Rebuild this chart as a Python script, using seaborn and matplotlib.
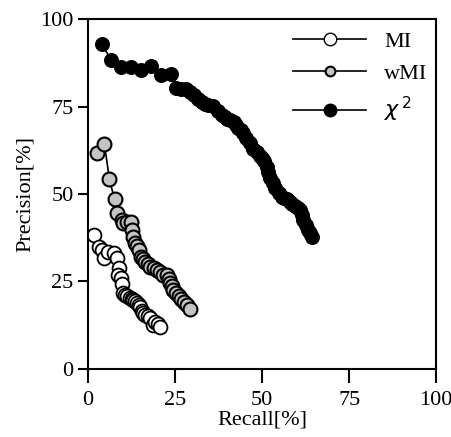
import pandas as pd
import matplotlib.pyplot as plt
import seaborn as sns
from matplotlib.lines import Line2D

# Datos
mi_recall = [1.7, 3.0, 3.9, 4.6, 5.8, 7.3, 8.2, 9.0, 8.7, 9.4, 9.7, 9.7, 10.1, 10.6, 11.1, 12.0,
             12.5, 13.0, 13.5, 14.0, 14.5, 14.9, 15.4, 15.9, 16.4, 17.1, 17.8, 18.5, 19.3, 20.0, 20.7]
mi_precision = [38.3, 34.9, 34.0, 31.6, 33.5, 33.0, 31.6, 28.8, 26.9, 26.0, 25.4, 23.0, 21.6, 21.2, 20.7, 20.2,
                20.0, 19.7, 19.3, 18.8, 18.3, 17.8, 16.4, 16.0, 15.4, 15.0, 14.5, 12.6, 13.5, 12.8, 12.1]

wmi_recall = [2.5, 4.7, 6.1, 7.6, 8.2, 9.7, 10.1, 11.2, 12.3, 12.5, 13.0, 13.5, 14.0, 14.5, 15.2, 15.8,
              16.4, 17.1, 17.8, 18.8, 19.7, 20.6, 21.6, 22.8, 23.2, 23.6, 24.0, 24.5, 25.2, 26.0,
              26.7, 27.4, 28.3, 29.3]
wmi_precision = [61.8, 64.2, 54.2, 48.5, 44.5, 42.6, 41.8, 41.9, 42.1, 39.7, 37.8, 35.9, 35.0, 34.0, 32.1, 31.4,
                 30.7, 30.0, 29.2, 28.8, 28.3, 27.6, 26.9, 26.9, 25.7, 24.5, 23.6, 22.6, 21.6, 20.7,
                 20.0, 19.2, 18.2, 17.1]

chi_recall = [3.9, 6.6, 9.4, 12.3, 15.2, 18.0, 21.0, 23.8, 25.3, 26.8, 28.2, 29.3, 30.3, 31.5, 32.7,
              33.6, 34.5, 36.0, 37.2, 38.4, 39.2, 40.0, 40.9, 41.8, 42.4, 43.0, 43.8, 44.5, 45.5,
              46.5, 47.5, 48.5, 49.4, 50.0, 50.5, 51.3, 51.8, 52.3, 53.0, 53.7, 54.7, 55.7, 56.4,
              57.0, 58.0, 58.7, 59.5, 60.2, 60.9, 61.4, 61.8, 62.5, 63.2, 63.8, 64.3]
chi_precision = [93.0, 88.3, 86.4, 86.4, 85.4, 86.7, 84.0, 84.3, 80.4, 80.1, 79.9, 79.1, 78.3, 77.2, 76.2,
                 75.8, 75.5, 75.1, 73.8, 72.6, 72.0, 71.5, 71.1, 70.7, 69.8, 69.0, 68.2, 67.4, 66.0,
                 64.6, 63.0, 62.0, 61.0, 60.2, 59.5, 57.8, 56.2, 54.6, 53.1, 51.7, 50.4, 49.2, 48.8,
                 48.5, 47.8, 47.1, 46.5, 46.0, 45.4, 44.0, 42.6, 41.2, 39.7, 38.8, 37.8]

plt.rcParams['font.family'] = ['Liberation Serif', 'DejaVu Serif']

fig = plt.figure(figsize=(4.52, 4.37), dpi=100)
ax = fig.add_axes([0.195, 0.156, 0.77, 0.80])

sns.lineplot(x=chi_recall, y=chi_precision, ax=ax, sort=False, color='black', lw=1.2,
             marker='o', markersize=10, markerfacecolor='black', markeredgecolor='black')
sns.lineplot(x=wmi_recall, y=wmi_precision, ax=ax, sort=False, color='black', lw=1.2,
             marker='o', markersize=10, markerfacecolor='#c4c4c4', markeredgecolor='black',
             markeredgewidth=1.5)
sns.lineplot(x=mi_recall, y=mi_precision, ax=ax, sort=False, color='black', lw=1.2,
             marker='o', markersize=10, markerfacecolor='white', markeredgecolor='black',
             markeredgewidth=1.3)

ax.set_xlim(0, 100)
ax.set_ylim(0, 100)
ax.set_xticks([0, 25, 50, 75, 100])
ax.set_yticks([0, 25, 50, 75, 100])
ax.tick_params(axis='x', direction='out', length=10, width=1.5, labelsize=16, pad=6)
ax.tick_params(axis='y', direction='out', length=7, width=1.5, labelsize=16)
for s in ax.spines.values():
    s.set_linewidth(1.5)
ax.set_xlabel('Recall[%]', fontsize=16, labelpad=0)
ax.set_ylabel('Precision[%]', fontsize=16, labelpad=4)

handles = [
    Line2D([], [], color='black', lw=1.2, marker='o', markersize=9,
           markerfacecolor='white', markeredgecolor='black'),
    Line2D([], [], color='black', lw=1.2, marker='o', markersize=7,
           markerfacecolor='#c4c4c4', markeredgecolor='black', markeredgewidth=1.5),
    Line2D([], [], color='black', lw=1.2, marker='o', markersize=9,
           markerfacecolor='black', markeredgecolor='black'),
]
ax.legend(handles, ['MI', 'wMI', r'$\chi^{\,2}$'], loc='upper right', frameon=False,
          fontsize=16, handlelength=3.3, handletextpad=0.8, labelspacing=0.5,
          borderaxespad=0.0, bbox_to_anchor=(1.0, 0.99))

plt.savefig('out.png', dpi=100)
